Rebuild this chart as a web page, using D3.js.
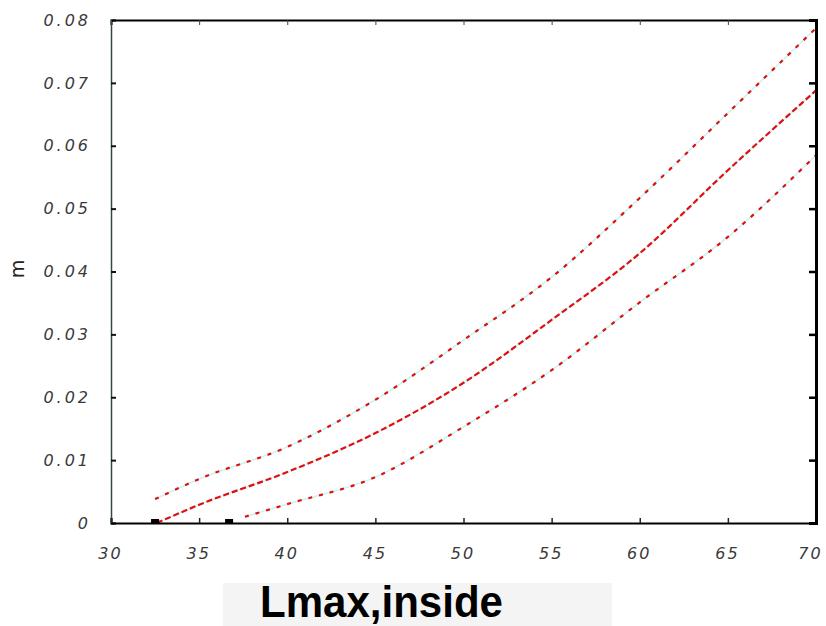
<!DOCTYPE html>
<html><head><meta charset="utf-8">
<script src="https://cdn.jsdelivr.net/npm/d3@7"></script>
<style>html,body{margin:0;padding:0;background:#fff;}svg{display:block;}</style>
</head><body>
<script>
// Data
const xTicks = [30, 35, 40, 45, 50, 55, 60, 65, 70];
const yTicks = [0, 0.01, 0.02, 0.03, 0.04, 0.05, 0.06, 0.07, 0.08];
const upperX = [32.5, 35, 40, 45, 50, 55, 60, 65, 70];
const upperY = [0.0038, 0.0070, 0.0121, 0.0196, 0.0291, 0.0391, 0.0517, 0.0652, 0.0787];
const middleX = [32.6, 35, 40, 45, 50, 55, 60, 65, 70];
const middleY = [0.0, 0.0029, 0.0081, 0.0143, 0.0223, 0.0323, 0.0429, 0.0561, 0.0688];
const lowerX = [37.6, 40, 45, 50, 55, 60, 65, 70];
const lowerY = [0.0010, 0.0030, 0.0073, 0.0153, 0.0243, 0.0351, 0.0455, 0.0585];
const zeroMarks = [32.5, 36.7];
const xTitle = "Lmax,inside";
const yTitle = "m";

const W = 826, H = 626;
const svg = d3.select("body").append("svg").attr("width", W).attr("height", H);
const x = d3.scaleLinear().domain([30, 70]).range([111, 816]);
const y = d3.scaleLinear().domain([0, 0.08]).range([523, 20]);

const line = d3.line().x(d => x(d[0])).y(d => y(d[1])).curve(d3.curveMonotoneX);
const zip = (a, b) => a.map((v, i) => [v, b[i]]);

// faint cyan underlay + red dashed curves
const curves = [
  {d: zip(upperX, upperY), dash: "4,7"},
  {d: zip(middleX, middleY), dash: "6,3"},
  {d: zip(lowerX, lowerY), dash: "4,7"}
];
curves.forEach(c => {
  svg.append("path").attr("d", line(c.d)).attr("fill", "none")
    .attr("stroke", "#c9f3f3").attr("stroke-width", 1.5);
  svg.append("path").attr("d", line(c.d)).attr("fill", "none")
    .attr("stroke", "#e01010").attr("stroke-width", 2.2)
    .attr("stroke-dasharray", c.dash);
});

// axes
const tickFont = (g, ls) => g.selectAll("text")
  .attr("font-family", "DejaVu Sans, sans-serif").attr("font-size", 16)
  .attr("font-style", "italic").attr("fill", "#3a3a3a")
  .attr("letter-spacing", ls);

const yFmt = d => d === 0 ? "0" : d.toFixed(2);
const gl = svg.append("g").attr("transform", `translate(${x(30)},0)`)
  .call(d3.axisLeft(y).tickValues(yTicks).tickFormat(yFmt).tickSize(-5).tickPadding(20));
gl.select(".domain").attr("stroke", "#2f4a4a").attr("stroke-width", 1.5);
gl.selectAll(".tick line").attr("stroke", "#111").attr("stroke-width", 2);
tickFont(gl, "3px");

const gb = svg.append("g").attr("transform", `translate(0,${y(0)})`)
  .call(d3.axisBottom(x).tickValues(xTicks).tickFormat(d3.format("d")).tickSize(-5).tickPadding(25));
gb.select(".domain").attr("stroke", "#000").attr("stroke-width", 2);
gb.selectAll(".tick line").attr("stroke", "#222").attr("stroke-width", 1.5);
tickFont(gb, "2px");
gb.selectAll("text").attr("dx", d => d === 70 ? "-6px" : "-1px");

const gt = svg.append("g").attr("transform", `translate(0,${y(0.08)})`)
  .call(d3.axisTop(x).tickValues(xTicks).tickFormat("").tickSize(-5));
gt.select(".domain").attr("stroke", "#000").attr("stroke-width", 2);
gt.selectAll(".tick line").attr("stroke", "#444").attr("stroke-width", 1);

const gr = svg.append("g").attr("transform", `translate(${x(70)},0)`)
  .call(d3.axisRight(y).tickValues(yTicks).tickFormat("").tickSize(-7));
gr.select(".domain").attr("stroke", "#000").attr("stroke-width", 3);
gr.selectAll(".tick line").attr("stroke", "#000").attr("stroke-width", 2.5);

// black markers on the x axis
svg.selectAll("rect.zm").data(zeroMarks).enter().append("rect")
  .attr("x", d => x(d) - 4).attr("y", y(0) - 4).attr("width", 8).attr("height", 4)
  .attr("fill", "#000");

// y title
svg.append("text").attr("transform", "translate(24,269) rotate(-90)")
  .attr("text-anchor", "middle").attr("font-family", "DejaVu Sans, sans-serif")
  .attr("font-size", 19).attr("fill", "#222").text(yTitle);

// x title with grey box
svg.append("rect").attr("x", 223).attr("y", 583).attr("width", 389).attr("height", 43)
  .attr("fill", "#f4f4f4");
svg.append("text").attr("x", 260).attr("y", 617)
  .attr("font-family", "Liberation Sans, Arial, sans-serif").attr("font-weight", "bold")
  .attr("font-size", 44).attr("fill", "#000")
  .attr("textLength", 243).attr("lengthAdjust", "spacingAndGlyphs").text(xTitle);
</script>
</body></html>
